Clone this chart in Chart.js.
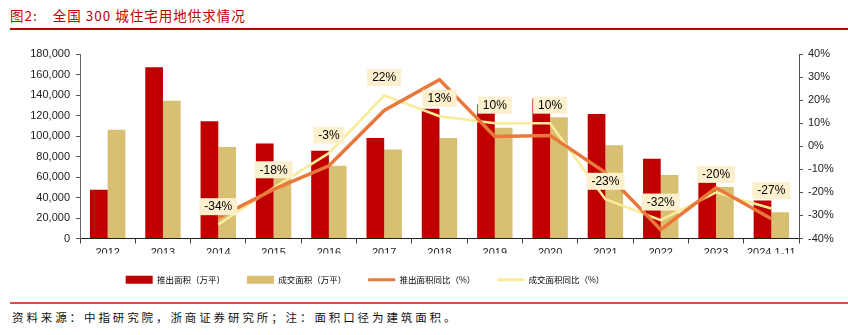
<!DOCTYPE html>
<html>
<head>
<meta charset="utf-8">
<script src="https://cdn.jsdelivr.net/npm/chart.js@4.4.1/dist/chart.umd.min.js"></script>
<style>
  html, body { margin:0; padding:0; background:#fff; }
  body { width:848px; height:335px; position:relative; overflow:hidden; font-family:"Noto Sans CJK SC","Liberation Sans",sans-serif; }
  #title { position:absolute; left:10px; top:5px; font-size:13.5px; color:#C00000; letter-spacing:1px; white-space:nowrap; }
  #topline { position:absolute; left:10px; top:28px; width:838px; height:2px; background:#C00000; }
  #wrap { position:absolute; left:0; top:32px; width:848px; height:268px; }
  #botline { position:absolute; left:10px; top:302px; width:838px; height:2px; background:#E04848; }
  #source { position:absolute; left:12px; top:309px; font-size:11.5px; letter-spacing:2.9px; color:#111; white-space:nowrap; }
</style>
</head>
<body>
<div id="title"><span>图2:</span><span style="margin-left:15px">全国 300 城住宅用地供求情况</span></div>
<div id="topline"></div>
<div id="wrap"><canvas id="c" width="848" height="268"></canvas></div>
<div id="botline"></div>
<div id="source">资料来源：中指研究院，浙商证券研究所；注：面积口径为建筑面积。</div>
<script>
const categories = ['2012','2013','2014','2015','2016','2017','2018','2019','2020','2021','2022','2023','2024.1-11'];
const launchedArea = [47500, 167000, 114500, 92800, 85600, 98000, 126500, 131000, 136500, 121500, 77700, 63700, 37000];
const tradedArea = [106000, 134500, 89200, 73000, 71000, 86900, 98000, 108000, 118300, 91000, 62000, 50200, 25600];
const launchedYoY = [null, null, -31, -18.7, -8.5, 15.5, 28.9, 4.2, 4.7, -11.4, -36.2, -18, -31.4];
const tradedYoY = [null, null, -34, -18, -3, 22, 13, 10, 10, -23, -32, -20, -27];
const leftTicks = [0, 20000, 40000, 60000, 80000, 100000, 120000, 140000, 160000, 180000];
const rightTicks = [-40, -30, -20, -10, 0, 10, 20, 30, 40];
const seriesNames = ['推出面积（万平）', '成交面积（万平）', '推出面积同比（%）', '成交面积同比（%）'];

const C_RED = '#C00000', C_GOLD = '#D9BF72', C_ORANGE = '#E8793A', C_YELLOW = '#F8EC98';

const labelPlugin = {
  id: 'yoyLabels',
  afterDatasetsDraw(chart) {
    const meta = chart.getDatasetMeta(3);
    const ctx = chart.ctx;
    ctx.save();
    ctx.font = '12px "Liberation Sans", Arial, sans-serif';
    ctx.textAlign = 'center';
    ctx.textBaseline = 'middle';
    meta.data.forEach((pt, i) => {
      const v = tradedYoY[i];
      if (v === null || v === undefined) return;
      const txt = v + '%';
      const w = ctx.measureText(txt).width + 10;
      const h = 17;
      const cx = pt.x, cy = pt.y - 18;
      ctx.fillStyle = '#FDF0CF';
      ctx.fillRect(cx - w / 2, cy - h / 2, w, h);
      ctx.fillStyle = '#000';
      ctx.fillText(txt, cx, cy + 0.5);
    });
    ctx.restore();
  }
};

const legendShift = {
  id: 'legendShift',
  afterLayout(chart) {
    const lg = chart.legend;
    if (lg) { lg.left -= 59; lg.right -= 59; }
  }
};

new Chart(document.getElementById('c'), {
  data: {
    labels: categories,
    datasets: [
      { type: 'bar', label: seriesNames[0], data: launchedArea, backgroundColor: C_RED, yAxisID: 'y', order: 3, categoryPercentage: 0.64, barPercentage: 1.0 },
      { type: 'bar', label: seriesNames[1], data: tradedArea, backgroundColor: C_GOLD, yAxisID: 'y', order: 3, categoryPercentage: 0.64, barPercentage: 1.0 },
      { type: 'line', label: seriesNames[2], data: launchedYoY, borderColor: C_ORANGE, backgroundColor: C_ORANGE, borderWidth: 3.5, pointRadius: 0, tension: 0, yAxisID: 'y1', order: 1 },
      { type: 'line', label: seriesNames[3], data: tradedYoY, borderColor: C_YELLOW, backgroundColor: C_YELLOW, borderWidth: 2.5, pointRadius: 0, tension: 0, yAxisID: 'y1', order: 2 }
    ]
  },
  options: {
    responsive: false,
    animation: false,
    layout: { padding: { top: 22, bottom: 6, left: 0, right: 0 } },
    plugins: {
      tooltip: { enabled: false },
      legend: {
        position: 'bottom',
        labels: {
          usePointStyle: true,
          pointStyleWidth: 27,
          boxHeight: 8,
          padding: 22,
          color: '#333',
          font: { family: '"Noto Sans CJK SC", sans-serif', size: 8.5 },
          generateLabels(chart) {
            return chart.data.datasets.map((ds, i) => ({
              text: ds.label,
              fillStyle: ds.type === 'bar' ? ds.backgroundColor : 'rgba(0,0,0,0)',
              strokeStyle: ds.type === 'bar' ? ds.backgroundColor : ds.borderColor,
              lineWidth: ds.type === 'bar' ? 0 : 3,
              pointStyle: ds.type === 'bar' ? 'rect' : 'line',
              hidden: false,
              datasetIndex: i
            }));
          }
        }
      }
    },
    scales: {
      x: {
        offset: true,
        grid: { display: true, offset: true, drawOnChartArea: false, drawTicks: true, tickLength: 5, color: '#404040' },
        border: { display: true, color: '#222', width: 1 },
        ticks: { color: '#222', font: { family: '"Liberation Sans", Arial, sans-serif', size: 11 }, padding: 3, maxRotation: 0, autoSkip: false },
        afterFit(s) { s.height = 15; }
      },
      y: {
        position: 'left',
        min: 0, max: 180000,
        afterBuildTicks(s) { s.ticks = leftTicks.map(v => ({ value: v })); },
        grid: { drawOnChartArea: false, drawTicks: true, tickLength: 4, color: '#555' },
        border: { display: true, color: '#666', width: 1 },
        ticks: { color: '#222', padding: 6, font: { family: '"Liberation Sans", Arial, sans-serif', size: 11 },
          callback: v => v.toLocaleString('en-US') },
        afterFit(s) { s.width = 80; }
      },
      y1: {
        position: 'right',
        min: -40, max: 40,
        afterBuildTicks(s) { s.ticks = rightTicks.map(v => ({ value: v })); },
        grid: { drawOnChartArea: false, drawTicks: true, tickLength: 4, color: '#555' },
        border: { display: true, color: '#555', width: 1 },
        ticks: { color: '#222', padding: 5, font: { family: '"Liberation Sans", Arial, sans-serif', size: 11 },
          callback: v => v + '%' },
        afterFit(s) { s.width = 49; }
      }
    }
  },
  plugins: [labelPlugin, legendShift]
});
</script>
</body>
</html>
